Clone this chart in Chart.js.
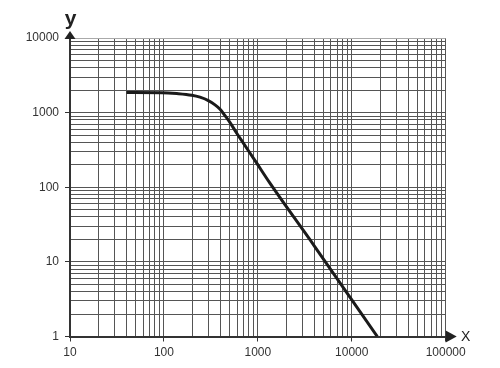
<!DOCTYPE html>
<html>
<head>
<meta charset="utf-8">
<script src="https://cdn.jsdelivr.net/npm/chart.js@4/dist/chart.umd.min.js"></script>
<style>
  html, body { margin: 0; padding: 0; background: #fff; }
  #wrap { width: 500px; height: 368px; position: relative; }
</style>
</head>
<body>
<div id="wrap"><canvas id="chart"></canvas></div>
<script>
// ===== データ =====
const xValues = [40, 95, 137, 198, 242, 297, 350, 396, 447, 506, 596, 701, 973, 1328, 4000, 18700];
const yValues = [1860, 1850, 1800, 1710, 1610, 1450, 1270, 1110, 910, 735, 530, 390, 210, 116, 16.3, 1];
const xTickLabels = [10, 100, 1000, 10000, 100000];
const yTickLabels = [1, 10, 100, 1000, 10000];

// decade minor lines 1..9 x 10^n
function gridValues(majors) {
  const out = [];
  majors.forEach((m, i) => {
    if (i === majors.length - 1) { out.push(m); return; }
    for (let k = 1; k <= 9; k++) out.push(m * k);
  });
  return out;
}

const AXIS = "#333";
const GRID = "#555";
const FONT = "'Liberation Sans', Arial, sans-serif";

function axisOptions(majors) {
  return {
    type: "logarithmic",
    min: majors[0],
    max: majors[majors.length - 1],
    afterBuildTicks: (scale) => {
      scale.ticks = gridValues(majors).map(v => ({ value: v, major: majors.includes(v) }));
    },
    ticks: {
      autoSkip: false,
      maxRotation: 0,
      color: AXIS,
      font: { family: FONT, size: 12 },
      callback: (v) => majors.includes(v) ? String(v) : ""
    },
    grid: {
      color: (ctx) => (ctx.tick && ctx.tick.value === majors[majors.length - 1] && majors[0] === 1) ? "#aaa" : GRID,
      lineWidth: 1,
      tickLength: 5,
      tickColor: (ctx) => (ctx.tick && majors.includes(ctx.tick.value)) ? AXIS : "rgba(0,0,0,0)"
    },
    border: { color: AXIS, width: 2 }
  };
}

// ===== 矢印と軸ラベル =====
const arrowPlugin = {
  id: "arrows",
  afterDraw(chart) {
    const { ctx, chartArea: a } = chart;
    ctx.save();
    ctx.fillStyle = "#222";
    // y arrow
    ctx.beginPath();
    ctx.moveTo(a.left, a.top - 7);
    ctx.lineTo(a.left - 5.5, a.top + 1);
    ctx.lineTo(a.left + 5.5, a.top + 1);
    ctx.closePath();
    ctx.fill();
    // x arrow
    ctx.beginPath();
    ctx.moveTo(a.right + 11, a.bottom);
    ctx.lineTo(a.right, a.bottom - 6);
    ctx.lineTo(a.right, a.bottom + 6);
    ctx.closePath();
    ctx.fill();

    ctx.fillStyle = "#222";
    ctx.textAlign = "center";
    ctx.textBaseline = "middle";
    ctx.font = "bold 21px " + FONT;
    ctx.fillText("y", a.left + 0.5, a.top - 19);
    ctx.font = "14px " + FONT;
    ctx.fillText("X", a.right + 20, a.bottom + 0.5);
    ctx.restore();
  }
};

const x = axisOptions(xTickLabels);
x.ticks.padding = 4;
x.afterFit = (s) => { s.height = 31.5; };
const y = axisOptions(yTickLabels);
y.ticks.padding = 6;
y.afterFit = (s) => { s.width = 70; };

new Chart(document.getElementById("chart"), {
  type: "line",
  data: {
    datasets: [{
      data: xValues.map((v, i) => ({ x: v, y: yValues[i] })),
      borderColor: "#1a1a1a",
      borderWidth: 3,
      pointRadius: 0,
      cubicInterpolationMode: "monotone",
      fill: false
    }]
  },
  options: {
    responsive: true,
    maintainAspectRatio: false,
    animation: false,
    layout: { padding: { top: 38, right: 54.3, bottom: 0, left: 0 } },
    plugins: { legend: { display: false }, tooltip: { enabled: false } },
    scales: { x, y }
  },
  plugins: [arrowPlugin]
});
</script>
</body>
</html>
